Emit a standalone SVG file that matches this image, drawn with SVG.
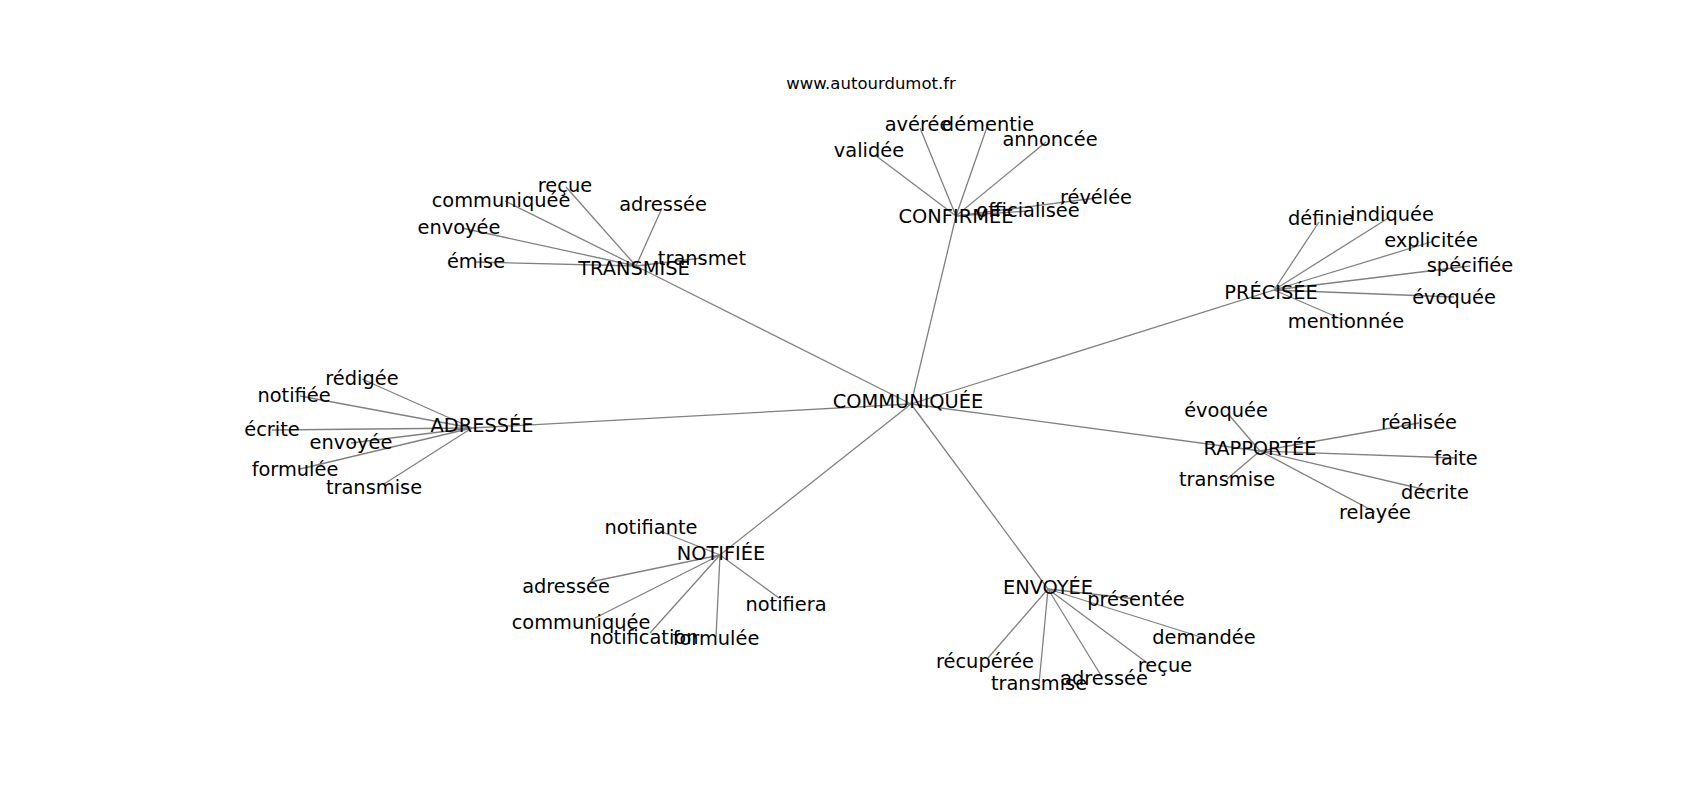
<svg xmlns="http://www.w3.org/2000/svg" width="1700" height="800" viewBox="0 0 1700 800">
<style>
.e{stroke:#808080;stroke-width:1.3;fill:none}
.t{font-family:"DejaVu Sans",sans-serif;font-size:19.4px;fill:#000;text-anchor:middle;dominant-baseline:central}
.h{font-family:"DejaVu Sans",sans-serif;font-size:16.5px;fill:#000;text-anchor:middle;dominant-baseline:central}
</style>
<rect width="1700" height="800" fill="#fff"/>
<g id="connectors">
<!-- hub -->
<line class="e" x1="911" y1="404" x2="636" y2="266"/>
<line class="e" x1="911" y1="404" x2="956" y2="216"/>
<line class="e" x1="911" y1="404" x2="1274" y2="290"/>
<line class="e" x1="911" y1="404" x2="472" y2="428"/>
<line class="e" x1="911" y1="404" x2="1260" y2="451"/>
<line class="e" x1="911" y1="404" x2="720" y2="555"/>
<line class="e" x1="911" y1="404" x2="1048" y2="589"/>
<!-- TRANSMISE -->
<line class="e" x1="636" y1="266" x2="566" y2="187"/>
<line class="e" x1="636" y1="266" x2="505" y2="201"/>
<line class="e" x1="636" y1="266" x2="462" y2="228"/>
<line class="e" x1="636" y1="266" x2="476" y2="262"/>
<line class="e" x1="636" y1="266" x2="662" y2="208"/>
<line class="e" x1="636" y1="266" x2="702" y2="258"/>
<!-- CONFIRMEE -->
<line class="e" x1="956" y1="216" x2="875" y2="155"/>
<line class="e" x1="956" y1="216" x2="920" y2="128"/>
<line class="e" x1="956" y1="216" x2="987" y2="127"/>
<line class="e" x1="956" y1="216" x2="1046" y2="142"/>
<line class="e" x1="956" y1="216" x2="1096" y2="198"/>
<line class="e" x1="956" y1="216" x2="1028" y2="211"/>
<!-- PRECISEE -->
<line class="e" x1="1274" y1="290" x2="1319" y2="222"/>
<line class="e" x1="1274" y1="290" x2="1390" y2="217"/>
<line class="e" x1="1274" y1="290" x2="1431" y2="242"/>
<line class="e" x1="1274" y1="290" x2="1470" y2="266"/>
<line class="e" x1="1274" y1="290" x2="1454" y2="297"/>
<line class="e" x1="1274" y1="290" x2="1346" y2="321"/>
<!-- RAPPORTEE -->
<line class="e" x1="1260" y1="451" x2="1229" y2="415"/>
<line class="e" x1="1260" y1="451" x2="1227" y2="479"/>
<line class="e" x1="1260" y1="451" x2="1419" y2="423"/>
<line class="e" x1="1260" y1="451" x2="1456" y2="458"/>
<line class="e" x1="1260" y1="451" x2="1435" y2="492"/>
<line class="e" x1="1260" y1="451" x2="1375" y2="512"/>
<!-- ADRESSEE -->
<line class="e" x1="472" y1="428" x2="362" y2="379"/>
<line class="e" x1="472" y1="428" x2="300" y2="396"/>
<line class="e" x1="472" y1="428" x2="272" y2="430"/>
<line class="e" x1="472" y1="428" x2="351" y2="443"/>
<line class="e" x1="472" y1="428" x2="300" y2="469"/>
<line class="e" x1="472" y1="428" x2="384" y2="484"/>
<!-- NOTIFIEE -->
<line class="e" x1="720" y1="555" x2="660" y2="531"/>
<line class="e" x1="720" y1="555" x2="590" y2="582"/>
<line class="e" x1="720" y1="555" x2="595" y2="618"/>
<line class="e" x1="720" y1="555" x2="650" y2="633"/>
<line class="e" x1="720" y1="555" x2="716" y2="637"/>
<line class="e" x1="720" y1="555" x2="779" y2="598"/>
<!-- ENVOYEE -->
<line class="e" x1="1048" y1="589" x2="1136" y2="599"/>
<line class="e" x1="1048" y1="589" x2="1204" y2="638"/>
<line class="e" x1="1048" y1="589" x2="988" y2="658"/>
<line class="e" x1="1048" y1="589" x2="1039" y2="684"/>
<line class="e" x1="1048" y1="589" x2="1102" y2="677"/>
<line class="e" x1="1048" y1="589" x2="1150" y2="665"/>
</g>
<text class="h" x="871" y="83">www.autourdumot.fr</text>
<g id="n-communiquee"><text class="t" x="908" y="401">COMMUNIQUÉE</text></g>
<g id="n-transmise"><text class="t" x="634" y="268">TRANSMISE</text></g>
<g id="n-t-recue"><text class="t" x="565" y="185">reçue</text></g>
<g id="n-t-communiquee"><text class="t" x="501" y="200">communiquée</text></g>
<g id="n-t-envoyee"><text class="t" x="459" y="227">envoyée</text></g>
<g id="n-t-emise"><text class="t" x="476" y="261">émise</text></g>
<g id="n-t-adressee"><text class="t" x="663" y="204">adressée</text></g>
<g id="n-t-transmet"><text class="t" x="702" y="258">transmet</text></g>
<g id="n-confirmee"><text class="t" x="956" y="216">CONFIRMÉE</text></g>
<g id="n-c-validee"><text class="t" x="869" y="150">validée</text></g>
<g id="n-c-averee"><text class="t" x="918" y="124">avérée</text></g>
<g id="n-c-dementie"><text class="t" x="988" y="124">démentie</text></g>
<g id="n-c-annoncee"><text class="t" x="1050" y="139">annoncée</text></g>
<g id="n-c-revelee"><text class="t" x="1096" y="197">révélée</text></g>
<g id="n-c-officialisee"><text class="t" x="1028" y="210">officialisée</text></g>
<g id="n-precisee"><text class="t" x="1271" y="292">PRÉCISÉE</text></g>
<g id="n-p-definie"><text class="t" x="1321" y="218">définie</text></g>
<g id="n-p-indiquee"><text class="t" x="1392" y="214">indiquée</text></g>
<g id="n-p-explicitee"><text class="t" x="1431" y="240">explicitée</text></g>
<g id="n-p-specifiee"><text class="t" x="1470" y="265">spécifiée</text></g>
<g id="n-p-evoquee"><text class="t" x="1454" y="297">évoquée</text></g>
<g id="n-p-mentionnee"><text class="t" x="1346" y="321">mentionnée</text></g>
<g id="n-rapportee"><text class="t" x="1260" y="448">RAPPORTÉE</text></g>
<g id="n-r-evoquee"><text class="t" x="1226" y="410">évoquée</text></g>
<g id="n-r-transmise"><text class="t" x="1227" y="479">transmise</text></g>
<g id="n-r-realisee"><text class="t" x="1419" y="422">réalisée</text></g>
<g id="n-r-faite"><text class="t" x="1456" y="458">faite</text></g>
<g id="n-r-decrite"><text class="t" x="1435" y="492">décrite</text></g>
<g id="n-r-relayee"><text class="t" x="1375" y="512">relayée</text></g>
<g id="n-adressee"><text class="t" x="482" y="425">ADRESSÉE</text></g>
<g id="n-a-redigee"><text class="t" x="362" y="378">rédigée</text></g>
<g id="n-a-notifiee"><text class="t" x="294" y="395">notifiée</text></g>
<g id="n-a-ecrite"><text class="t" x="272" y="429">écrite</text></g>
<g id="n-a-envoyee"><text class="t" x="351" y="442">envoyée</text></g>
<g id="n-a-formulee"><text class="t" x="295" y="469">formulée</text></g>
<g id="n-a-transmise"><text class="t" x="374" y="487">transmise</text></g>
<g id="n-notifiee"><text class="t" x="721" y="553">NOTIFIÉE</text></g>
<g id="n-n-notifiante"><text class="t" x="651" y="527">notifiante</text></g>
<g id="n-n-adressee"><text class="t" x="566" y="586">adressée</text></g>
<g id="n-n-notifiera"><text class="t" x="786" y="604">notifiera</text></g>
<g id="n-n-communiquee"><text class="t" x="581" y="622">communiquée</text></g>
<g id="n-n-notification"><text class="t" x="644" y="637">notification</text></g>
<g id="n-n-formulee"><text class="t" x="716" y="638">formulée</text></g>
<g id="n-envoyee"><text class="t" x="1048" y="587">ENVOYÉE</text></g>
<g id="n-e-presentee"><text class="t" x="1136" y="599">présentée</text></g>
<g id="n-e-demandee"><text class="t" x="1204" y="637">demandée</text></g>
<g id="n-e-recuperee"><text class="t" x="985" y="661">récupérée</text></g>
<g id="n-e-recue"><text class="t" x="1165" y="665">reçue</text></g>
<g id="n-e-adressee"><text class="t" x="1104" y="678">adressée</text></g>
<g id="n-e-transmise"><text class="t" x="1039" y="683">transmise</text></g>
</svg>
